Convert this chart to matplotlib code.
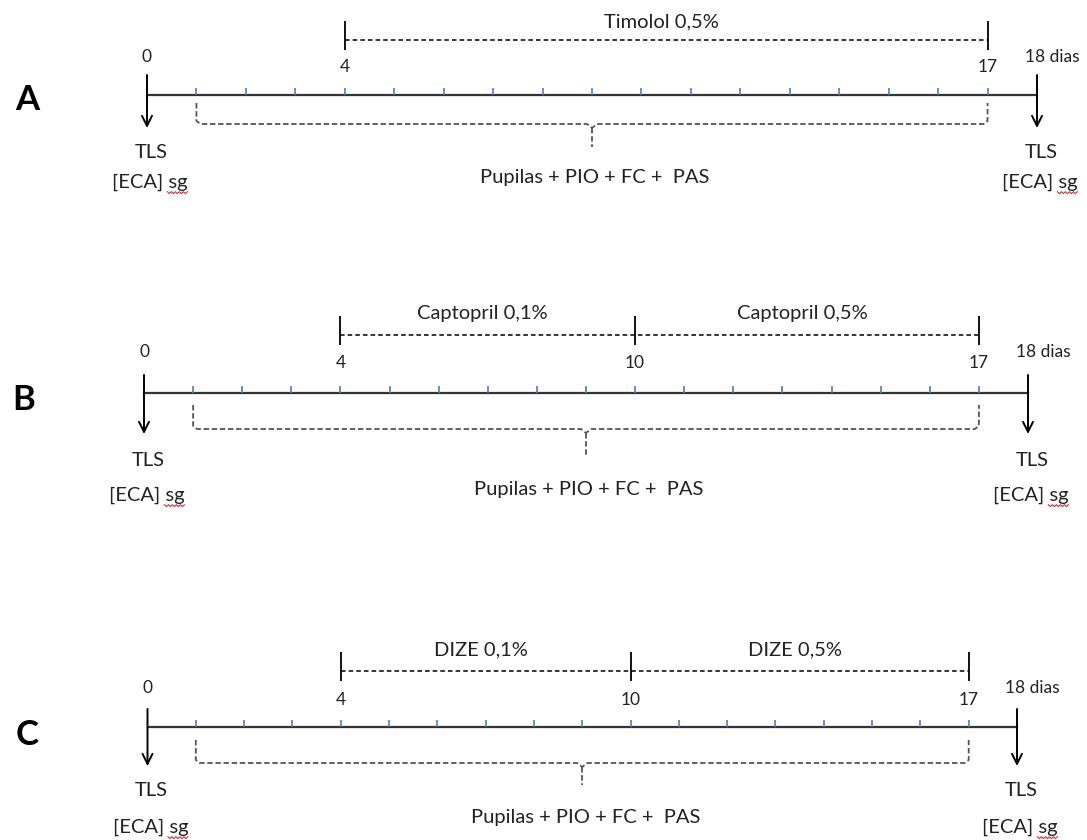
import numpy as np
import matplotlib
matplotlib.use('Agg')
import matplotlib.pyplot as plt
from matplotlib.transforms import IdentityTransform

plt.rcParams['font.family'] = ['Lato', 'DejaVu Sans']

# dados do protocolo
panels = ['A', 'B', 'C']
total_days = 18
obs_start, obs_end = 1, 17
day_labels = [[0, 4, 17], [0, 4, 10, 17], [0, 4, 10, 17]]
phase_bounds = [[4, 17], [4, 10, 17], [4, 10, 17]]
phase_names = [['Timolol 0,5%'],
               ['Captopril 0,1%', 'Captopril 0,5%'],
               ['DIZE 0,1%', 'DIZE 0,5%']]
obs_label = 'Pupilas + PIO + FC +  PAS'
end_label = '18 dias'

# layout em pixels (x do dia 0, x do dia 18, e alturas)
px_start = [147, 144, 147.5]
px_end = [1037, 1028, 1017]
lay = [
    dict(line=95, top=40, lab=22, n0=57, n=67, a0=75, a1=128, b0=103, b1=124, stem=147, obs=177, tls=152, eca=182, let=100),
    dict(line=393, top=335, lab=313, n0=352, n=363, a0=375, a1=434, b0=405, b1=429, stem=455, obs=490, tls=460, eca=495, let=400),
    dict(line=727, top=671, lab=650, n0=688, n=700, a0=709, a1=766, b0=740, b1=763, stem=785, obs=818, tls=791, eca=827, let=735),
]

W, H = 1087, 840
fig = plt.figure(figsize=(W / 100, H / 100), dpi=100)
blue = '#4a7ebb'
gray = '#555555'
txt = '#222222'
eca_texts = []

for i, name in enumerate(panels):
    L = lay[i]
    s = (px_end[i] - px_start[i]) / total_days
    ax = fig.add_axes([0, 0, 1, 1])
    ax.set_xlim(-px_start[i] / s, (W - px_start[i]) / s)
    ax.set_ylim(H, 0)
    ax.axis('off')
    px = 1 / s  # 1 pixel em unidades de dia

    # linha principal
    ax.plot([0, total_days], [L['line'], L['line']], color='#333333', lw=1.6)
    days = np.arange(1, total_days)
    ax.vlines(days, L['line'] - 7, L['line'], color=blue, lw=1.2)

    # setas inicio / fim
    for d in [0, total_days]:
        ax.annotate('', xy=(d, L['a1']), xytext=(d, L['a0']),
                    arrowprops=dict(arrowstyle='->', color='black', lw=1.4,
                                    mutation_scale=18, shrinkA=0, shrinkB=0))
        ax.text(d + 4 * px, L['tls'], 'TLS', ha='center', va='center', fontsize=14.5, color=txt)
        t = ax.text(d + 3 * px, L['eca'], '[ECA] sg', ha='center', va='center', fontsize=14.5, color=txt)
        eca_texts.append(t)

    # numeros dos dias
    for d in day_labels[i]:
        y = L['n0'] if d == 0 else L['n']
        ax.text(d, y, str(d), ha='center', va='center', fontsize=12.5, color=txt)
    ax.text(total_days - 12 * px, L['n0'], end_label, ha='left', va='center', fontsize=12.5, color=txt)

    # fases de tratamento (parte de cima)
    b = phase_bounds[i]
    ax.plot([b[0], b[-1]], [L['top'], L['top']], color='black', lw=1.1, ls=(0, (3, 2)))
    ax.vlines(b, L['top'] - 19, L['top'] + 10, color='black', lw=1.3)
    for k, nm in enumerate(phase_names[i]):
        ax.text((b[k] + b[k + 1]) / 2 - 5 * px, L['lab'], nm, ha='center', va='center', fontsize=14.5, color=txt)

    # chave de observacao (parte de baixo)
    mid = (obs_start + obs_end) / 2
    r = 4 * px
    xs = [obs_start, obs_start, obs_start + r, mid - 5 * px, mid, mid + 5 * px, obs_end - r, obs_end, obs_end]
    ys = [L['b0'], L['b1'] - 3, L['b1'], L['b1'], L['b1'] + 4, L['b1'], L['b1'], L['b1'] - 3, L['b0']]
    ax.plot(xs, ys, color=gray, lw=1.3, ls=(0, (3, 1.5)))
    ax.plot([mid, mid], [L['b1'] + 4, L['stem']], color=gray, lw=1.3, ls=(0, (3, 1.5)))
    ax.text(mid + 3 * px, L['obs'], obs_label, ha='center', va='center', fontsize=14.5, color=txt)

    # letra do painel
    ax.text(-120 * px, L['let'], name, ha='center', va='center', fontsize=25, fontweight='bold')

# sublinhado ondulado vermelho (corretor) sob "sg"
fig.canvas.draw()
rend = fig.canvas.get_renderer()
for t in eca_texts:
    bb = t.get_window_extent(rend)
    x0, x1 = bb.x1 - bb.width * 0.27, bb.x1
    zx = np.arange(x0, x1 + 0.1, 2.0)
    zy = bb.y0 - 1 + np.where(np.arange(len(zx)) % 2 == 0, 0, -2)
    fig.add_artist(plt.Line2D(zx, zy, color='#e03030', lw=0.8, transform=IdentityTransform()))

fig.savefig('out.png', dpi=100)
